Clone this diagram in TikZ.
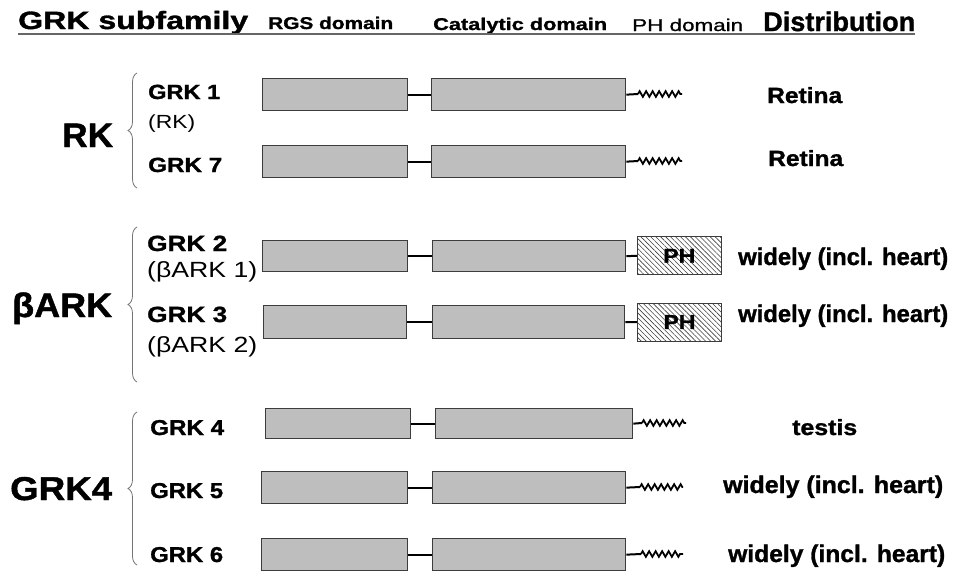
\documentclass[tikz,border=0pt]{standalone}
\usepackage{fontspec}
\setmainfont{Liberation Sans}[BoldFeatures={FakeBold=1.2}]
\usepackage{graphicx}
\usetikzlibrary{decorations.pathmorphing,decorations.pathreplacing,patterns.meta}
\definecolor{boxfill}{HTML}{BEBEBE}
\definecolor{boxdraw}{HTML}{3C3C3C}
\newcommand\tx[3]{\resizebox{#1pt}{\height}{\fontsize{#2pt}{#2pt}\selectfont #3}}
\begin{document}
\begin{tikzpicture}[x=1pt,y=-1pt,
  box/.style={draw=boxdraw, fill=boxfill, line width=1.3pt, inner sep=0pt, anchor=north west},
  phbox/.style={draw=boxdraw, line width=1pt, inner sep=0pt, anchor=north west,
    pattern={Lines[angle=-45,distance=3.5pt,line width=0.6pt]}, pattern color=black!75},
  link/.style={line width=2pt},
  zz/.style={line width=1.8pt, decorate, decoration={zigzag, segment length=6.5pt, amplitude=2.8pt}},
  brc/.style={draw=black!55, line width=0.8pt, decorate, decoration={brace, amplitude=9pt}},
  lbl/.style={inner sep=0pt, anchor=base west}]
\useasboundingbox (0,0) rectangle (959,571);

% header
\node[lbl] (hsub) at (18,29) {\tx{230}{25}{\bfseries GRK subfamily}};
\node[lbl] (hrgs) at (268,29) {\tx{125}{17}{\bfseries RGS domain}};
\node[lbl] (hcat) at (433,30) {\tx{174}{17}{\bfseries Catalytic domain}};
\node[lbl] (hph) at (632,31) {\tx{111}{17}{\addfontfeature{FakeBold=0.8}PH domain}};
\node[lbl] (hdis) at (763,31) {\tx{152}{27}{\bfseries Distribution}};
\draw[black!60, line width=1.5pt] (18,34) -- (915,34);

% group labels and braces
\node[lbl] (gRK) at (62,147) {\tx{51}{34}{\bfseries RK}};
\draw[brc] (137,188) -- (137,73);
\node[lbl] (gBARK) at (12,317) {\tx{100}{34}{\bfseries βARK}};
\draw[brc] (137,382) -- (137,227);
\node[lbl] (gGRK4) at (10,500) {\tx{102}{33}{\bfseries GRK4}};
\draw[brc] (137,565) -- (137,412);

% member labels
\node[lbl] (l1) at (148,99) {\tx{72}{20.5}{\bfseries GRK 1}};
\node[lbl] (l1b) at (148,128) {\tx{47}{19}{(RK)}};
\node[lbl] (l7) at (148,172) {\tx{74}{20.5}{\bfseries GRK 7}};
\node[lbl] (l2) at (147,251) {\tx{80}{22}{\bfseries GRK 2}};
\node[lbl] (l2b) at (147,277) {\tx{110}{22}{(βARK 1)}};
\node[lbl] (l3) at (147,322) {\tx{80}{22}{\bfseries GRK 3}};
\node[lbl] (l3b) at (147,352) {\tx{110}{22}{(βARK 2)}};
\node[lbl] (l4) at (150,435) {\tx{74}{21.5}{\bfseries GRK 4}};
\node[lbl] (l5) at (150,498) {\tx{73}{21.5}{\bfseries GRK 5}};
\node[lbl] (l6) at (150,562) {\tx{73}{21.5}{\bfseries GRK 6}};

% distribution
\node[lbl] (d1) at (767,103) {\tx{75}{22}{\bfseries Retina}};
\node[lbl] (d7) at (768,166) {\tx{75}{22}{\bfseries Retina}};
\node[lbl] (d2) at (738,265) {\tx{210}{24}{\bfseries widely (incl. heart)}};
\node[lbl] (d3) at (738,322) {\tx{210}{24}{\bfseries widely (incl. heart)}};
\node[lbl] (d4) at (792,435) {\tx{65}{22}{\bfseries testis}};
\node[lbl] (d5) at (723,493) {\tx{220}{24}{\bfseries widely (incl. heart)}};
\node[lbl] (d6) at (728,562) {\tx{217}{24}{\bfseries widely (incl. heart)}};

% GRK1
\node[box, minimum width=145pt, minimum height=32pt] (rgs1) at (262,78) {};
\node[box, minimum width=194pt, minimum height=32pt] (cat1) at (431,78) {};
\coordinate (z1a) at (638,94); \coordinate (z1b) at (682,94);
\draw[link] (rgs1.east) -- (cat1.west);
\draw[link] (cat1.east) -- (z1a);
\draw[zz] (z1a) -- (z1b);
% GRK7
\node[box, minimum width=145pt, minimum height=32pt] (rgs7) at (262,145) {};
\node[box, minimum width=194pt, minimum height=32pt] (cat7) at (431,145) {};
\coordinate (z7a) at (638,161); \coordinate (z7b) at (682,161);
\draw[link] (rgs7.east) -- (cat7.west);
\draw[link] (cat7.east) -- (z7a);
\draw[zz] (z7a) -- (z7b);
% GRK2
\node[box, minimum width=145pt, minimum height=31pt] (rgs2) at (262,240) {};
\node[box, minimum width=193pt, minimum height=31pt] (cat2) at (432,240) {};
\node[phbox, minimum width=84pt, minimum height=38pt] (ph2) at (637,236.5) {\tx{32}{20}{\bfseries PH}};
\draw[link] (rgs2.east) -- (cat2.west);
\draw[link] (cat2.east) -- (ph2.west);
% GRK3
\node[box, minimum width=143pt, minimum height=33pt] (rgs3) at (263,305) {};
\node[box, minimum width=192pt, minimum height=33pt] (cat3) at (432,305) {};
\node[phbox, minimum width=84pt, minimum height=38pt] (ph3) at (637,302.5) {\tx{32}{20}{\bfseries PH}};
\draw[link] (rgs3.east) -- (cat3.west);
\draw[link] (cat3.east) -- (ph3.west);
% GRK4
\node[box, minimum width=145pt, minimum height=30pt] (rgs4) at (265,408) {};
\node[box, minimum width=197pt, minimum height=30pt] (cat4) at (435,408) {};
\coordinate (z4a) at (642,423); \coordinate (z4b) at (686,423);
\draw[link] (rgs4.east) -- (cat4.west);
\draw[link] (cat4.east) -- (z4a);
\draw[zz] (z4a) -- (z4b);
% GRK5
\node[box, minimum width=146pt, minimum height=32pt] (rgs5) at (261,471) {};
\node[box, minimum width=193pt, minimum height=32pt] (cat5) at (432,471) {};
\coordinate (z5a) at (640,487); \coordinate (z5b) at (683,487);
\draw[link] (rgs5.east) -- (cat5.west);
\draw[link] (cat5.east) -- (z5a);
\draw[zz] (z5a) -- (z5b);
% GRK6
\node[box, minimum width=146pt, minimum height=32pt] (rgs6) at (261,538) {};
\node[box, minimum width=193pt, minimum height=32pt] (cat6) at (432,538) {};
\coordinate (z6a) at (641,554); \coordinate (z6b) at (683,554);
\draw[link] (rgs6.east) -- (cat6.west);
\draw[link] (cat6.east) -- (z6a);
\draw[zz] (z6a) -- (z6b);
\end{tikzpicture}
\end{document}
